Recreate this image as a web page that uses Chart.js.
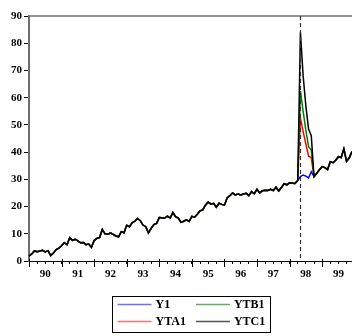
<!DOCTYPE html>
<html>
<head>
<meta charset="utf-8">
<script src="https://cdn.jsdelivr.net/npm/chart.js@4/dist/chart.umd.min.js"></script>
<style>
  html, body { margin: 0; padding: 0; background: #fff; }
  #wrap { width: 352px; height: 336px; }
</style>
</head>
<body>
<div id="wrap"><canvas id="chart"></canvas></div>
<script>
// year tick labels, one category per month (1990M01 .. 1999M12)
const years = ['90', '91', '92', '93', '94', '95', '96', '97', '98', '99'];

// actual series
const y1 = [
  1.8, 2.6, 3.7, 3.4, 3.7, 3.9, 3.3, 3.8, 2.0, 2.9, 4.2, 4.7,
  5.6, 6.7, 6.0, 8.5, 7.6, 8.0, 7.4, 6.7, 6.8, 6.0, 6.2, 5.0,
  7.5, 8.3, 8.6, 11.6, 10.0, 9.8, 10.3, 9.8, 9.2, 8.9, 10.8, 10.4,
  13.1, 12.6, 14.0, 14.6, 15.6, 14.8, 13.2, 12.6, 10.3, 12.0, 13.4, 13.8,
  16.0, 15.9, 15.8, 16.5, 15.8, 17.8, 16.3, 15.8, 14.2, 14.6, 15.1, 14.5,
  16.4, 16.1, 17.2, 18.4, 18.8, 20.5, 21.7, 20.9, 21.2, 19.8, 21.2, 20.8,
  20.5, 23.2, 24.0, 25.0, 24.3, 24.6, 24.3, 24.6, 24.9, 24.0, 25.5, 24.7,
  26.3, 25.0, 25.8, 26.0, 25.9, 26.3, 25.9, 27.1, 25.7, 27.0, 28.4, 28.0,
  28.7, 28.6, 28.5, 29.6, 31.0, 31.6, 31.2, 30.5, 32.8, 31.0, 32.2, 33.5,
  34.7, 34.3, 33.6, 36.5, 36.1, 37.0, 38.3, 38.0, 41.2, 36.6, 37.9, 40.2
];

// scenario values, from 1998M05 on; equal to Y1 elsewhere
const shockStart = 100;
const ytaShock = [52.5, 47.5, 43.0, 38.5, 38.0];
const ytbShock = [62.5, 55.0, 48.0, 42.0, 40.8];
const ytcShock = [84.0, 68.0, 57.0, 48.5, 46.0];

const labels = years.flatMap(y => Array.from({ length: 12 }, (_, m) => y + 'M' + (m + 1)));

function withShock(base, shock) {
  return base.map((v, i) => (i >= shockStart && i < shockStart + shock.length) ? shock[i - shockStart] : v);
}

const serif = "'Liberation Serif', 'Times New Roman', serif";

const decorations = {
  id: 'decorations',
  afterDraw(chart) {
    const { ctx, chartArea } = chart;
    const xs = chart.scales.x;
    ctx.save();

    // top frame
    ctx.strokeStyle = '#6e6e6e';
    ctx.lineWidth = 1.5;
    ctx.beginPath();
    ctx.moveTo(chartArea.left, chartArea.top);
    ctx.lineTo(chartArea.right, chartArea.top);
    ctx.stroke();

    // dashed marker at the shock
    const sx = Math.round(xs.getPixelForValue(shockStart)) + 0.5;
    ctx.strokeStyle = '#333';
    ctx.lineWidth = 1.2;
    ctx.setLineDash([4, 3]);
    ctx.beginPath();
    ctx.moveTo(sx, chartArea.top);
    ctx.lineTo(sx, chartArea.bottom);
    ctx.stroke();
    ctx.setLineDash([]);

    // longer ticks at year boundaries
    ctx.strokeStyle = '#000';
    ctx.lineWidth = 1;
    for (let i = 0; i < labels.length; i += 12) {
      const x = Math.round(xs.getPixelForValue(i)) + 0.5;
      ctx.beginPath();
      ctx.moveTo(x, chartArea.bottom - 2);
      ctx.lineTo(x, chartArea.bottom + 6);
      ctx.stroke();
    }

    // legend box, two columns
    const ds = chart.data.datasets;
    ctx.font = 'bold 12px ' + serif;
    const lineW = 34, gap = 4, pad = 5, colGap = 10;
    const col1 = Math.max(ctx.measureText(ds[0].label).width, ctx.measureText(ds[1].label).width);
    const col2 = Math.max(ctx.measureText(ds[2].label).width, ctx.measureText(ds[3].label).width);
    const boxW = pad + lineW + gap + col1 + colGap + lineW + gap + col2 + pad;
    const boxH = 36;
    const bx = Math.round((chartArea.left + chartArea.right) / 2 - boxW / 2) + 0.5;
    const by = 296.5;
    ctx.strokeStyle = '#000';
    ctx.lineWidth = 1;
    ctx.strokeRect(bx, by, Math.round(boxW), boxH);

    const cells = [
      { d: ds[0], x: bx + pad, y: by + 8 },
      { d: ds[1], x: bx + pad, y: by + 25 },
      { d: ds[2], x: bx + pad + lineW + gap + col1 + colGap, y: by + 8 },
      { d: ds[3], x: bx + pad + lineW + gap + col1 + colGap, y: by + 25 }
    ];
    ctx.textBaseline = 'middle';
    ctx.textAlign = 'left';
    cells.forEach(c => {
      ctx.strokeStyle = c.d.legendColor;
      ctx.lineWidth = 1.5;
      ctx.beginPath();
      ctx.moveTo(c.x, c.y);
      ctx.lineTo(c.x + lineW, c.y);
      ctx.stroke();
      ctx.fillStyle = '#000';
      ctx.fillText(c.d.label, c.x + lineW + gap, c.y + 0.5);
    });

    ctx.restore();
  }
};

const ctx = document.getElementById('chart').getContext('2d');
new Chart(ctx, {
  type: 'line',
  data: {
    labels: labels,
    datasets: [
      { label: 'Y1', data: y1, borderColor: '#0000ff', legendColor: '#6f6fff', order: 3 },
      { label: 'YTA1', data: withShock(y1, ytaShock), borderColor: '#ff0000', legendColor: '#ff6f6f', order: 2 },
      { label: 'YTB1', data: withShock(y1, ytbShock), borderColor: '#008000', legendColor: '#5fae5f', order: 1 },
      { label: 'YTC1', data: withShock(y1, ytcShock), borderColor: '#000000', legendColor: '#555555', order: 0 }
    ]
  },
  options: {
    responsive: true,
    maintainAspectRatio: false,
    animation: false,
    devicePixelRatio: 1,
    elements: {
      line: { borderWidth: 1.5, tension: 0 },
      point: { radius: 0 }
    },
    layout: { padding: { top: 16, right: 0, bottom: 53, left: 0 } },
    plugins: { legend: { display: false }, tooltip: { enabled: false } },
    scales: {
      x: {
        type: 'category',
        offset: false,
        grid: { drawOnChartArea: false, tickLength: 3, color: '#000' },
        border: { color: '#000', width: 1 },
        ticks: {
          autoSkip: false,
          maxRotation: 0,
          padding: 4,
          color: '#000',
          font: { family: serif, size: 11, weight: 'bold' },
          callback: (value) => (value % 12 === 6 ? years[(value - 6) / 12] : '')
        },
        afterBuildTicks: (scale) => { scale.ticks = scale.ticks.filter(t => t.value % 3 === 0); },
        afterFit: (scale) => { scale.height = 22; }
      },
      y: {
        min: 0,
        max: 90,
        grid: { drawOnChartArea: false, tickLength: 5, color: '#000' },
        border: { color: '#6e6e6e', width: 2 },
        ticks: {
          stepSize: 10,
          padding: 2,
          color: '#000',
          font: { family: serif, size: 11, weight: 'bold' }
        },
        afterFit: (scale) => { scale.width = 29; }
      }
    }
  },
  plugins: [decorations]
});
</script>
</body>
</html>
